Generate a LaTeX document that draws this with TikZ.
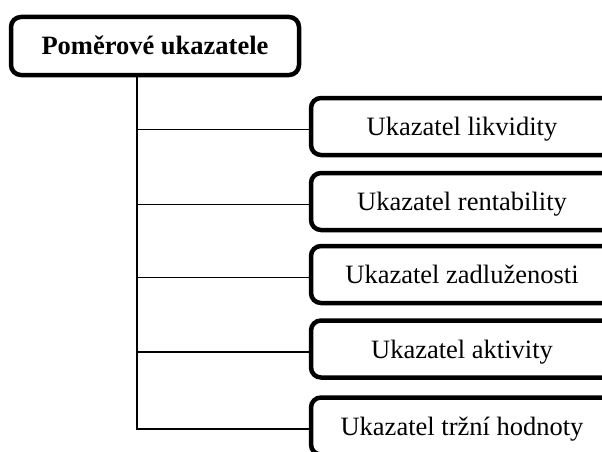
\documentclass[tikz,border=0pt]{standalone}
\usepackage{fontspec}
\setmainfont{Liberation Serif}
\begin{document}
\begin{tikzpicture}[x=1pt,y=-1pt,
  box/.style={draw=black, line width=4.5pt, rounded corners=10pt, fill=white,
    inner sep=0pt, font=\fontsize{26.5}{30}\selectfont, text height=18pt, text depth=0pt},
  rootbox/.style={box, minimum width=288pt, minimum height=58pt, font=\fontsize{26.5}{30}\selectfont\bfseries},
  leafbox/.style={box, minimum width=302pt, minimum height=57pt},
  branch/.style={draw=black, line width=1.4pt}]
\useasboundingbox (0,0) rectangle (602,452);
\clip (0,0) rectangle (602,452);
\fill[white] (0,0) rectangle (602,452);
\node[rootbox] (root) at (155,46) {Poměrové ukazatele};
\node[leafbox] (b1) at (462,126.5) {Ukazatel likvidity};
\node[leafbox] (b2) at (462,201.5) {Ukazatel rentability};
\node[leafbox] (b3) at (462,274.5) {Ukazatel zadluženosti};
\node[leafbox] (b4) at (462,349) {Ukazatel aktivity};
\node[leafbox] (b5) at (462,426) {Ukazatel tržní hodnoty};
\coordinate (trunk) at (137,75);
\foreach \b in {b1,b2,b3,b4,b5}{
  \coordinate (\b-in) at ([yshift=-3pt]\b.west);
}
\path[branch] (trunk) |- (b5-in);
\foreach \b in {b1,b2,b3,b4}{
  \path[branch] (trunk |- \b-in) -- (\b-in);
}
\end{tikzpicture}
\end{document}
